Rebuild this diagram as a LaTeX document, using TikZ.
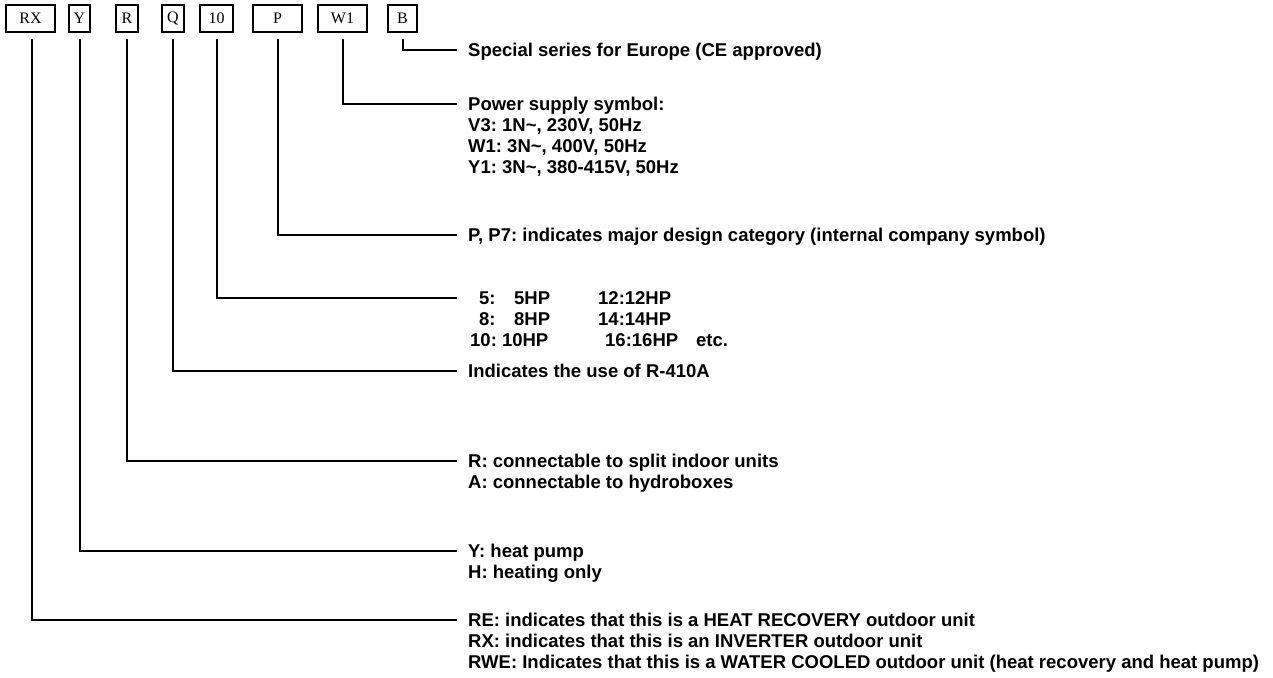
\documentclass[tikz,border=0pt]{standalone}
\usepackage{fontspec}
\setmainfont{Liberation Sans}
\newfontfamily\boxfont{Liberation Serif}
\begin{document}
\frenchspacing
\begin{tikzpicture}[x=1pt,y=-1pt,
  codebox/.style={draw, line width=1.4pt, minimum height=27pt, inner sep=0pt, font=\boxfont\fontsize{16}{18}\selectfont},
  txt/.style={anchor=west, inner sep=0pt, text height=13.2pt, text depth=0pt, font=\bfseries\fontsize{18.5}{21}\selectfont},
  conn/.style={line width=2pt, shorten >=11pt}]
\useasboundingbox (0,0) rectangle (1273,677);
% code boxes
\node[codebox, minimum width=49pt] (rx) at (30.5,18.5) {RX};
\node[codebox, minimum width=21pt] (y)  at (79.5,18.5) {Y};
\node[codebox, minimum width=22pt] (r)  at (127,18.5) {R};
\node[codebox, minimum width=22pt] (q)  at (173,18.5) {Q};
\node[codebox, minimum width=33pt] (ten) at (216.5,18.5) {10};
\node[codebox, minimum width=49pt] (p)  at (277.5,18.5) {P};
\node[codebox, minimum width=49pt] (w)  at (342.5,18.5) {W1};
\node[codebox, minimum width=29pt] (b)  at (402.5,18.5) {B};
% descriptions
\node[txt] (tb) at (468,50) {Special series for Europe (CE approved)};
\node[txt] (tw) at (468,104) {Power supply symbol:};
\node[txt] (tw2) at (468,125) {V3: 1N\textasciitilde, 230V, 50Hz};
\node[txt] (tw3) at (468,146) {W1: 3N\textasciitilde, 400V, 50Hz};
\node[txt] (tw4) at (468,167) {Y1: 3N\textasciitilde, 380-415V, 50Hz};
\node[txt] (tp) at (468,235) {P, P7: indicates major design category (internal company symbol)};
\node[txt] (tten) at (479,298) {\makebox[35pt][l]{5:}\makebox[84pt][l]{5HP}12:12HP};
\node[txt] (tten2) at (479,319) {\makebox[35pt][l]{8:}\makebox[84pt][l]{8HP}14:14HP};
\node[txt] (tten3) at (470,340) {\makebox[135pt][l]{10: 10HP}\makebox[91pt][l]{16:16HP}etc.};
\node[txt] (tq) at (468,371) {Indicates the use of R-410A};
\node[txt] (tr) at (468,461) {R: connectable to split indoor units};
\node[txt] (tr2) at (468,482) {A: connectable to hydroboxes};
\node[txt] (ty) at (468,551) {Y: heat pump};
\node[txt] (ty2) at (468,572) {H: heating only};
\node[txt] (trx) at (468,620) {RE: indicates that this is a HEAT RECOVERY outdoor unit};
\node[txt] (trx2) at (468,641) {RX: indicates that this is an INVERTER outdoor unit};
\node[txt] (trx3) at (468,662) {RWE: Indicates that this is a WATER COOLED outdoor unit (heat recovery and heat pump)};
% connectors
\draw[conn] ([yshift=-6pt]b.south) |- (tb.west);
\draw[conn] ([yshift=-6pt]w.south) |- (tw.west);
\draw[conn] ([yshift=-6pt]p.south) |- (tp.west);
\draw[conn, shorten >=22pt] ([yshift=-6pt]ten.south) |- (tten.west);
\draw[conn] ([yshift=-6pt]q.south) |- (tq.west);
\draw[conn] ([yshift=-6pt]r.south) |- (tr.west);
\draw[conn] ([yshift=-6pt]y.south) |- (ty.west);
\draw[conn] ([yshift=-6pt,xshift=1.5pt]rx.south) |- (trx.west);
\end{tikzpicture}
\end{document}
